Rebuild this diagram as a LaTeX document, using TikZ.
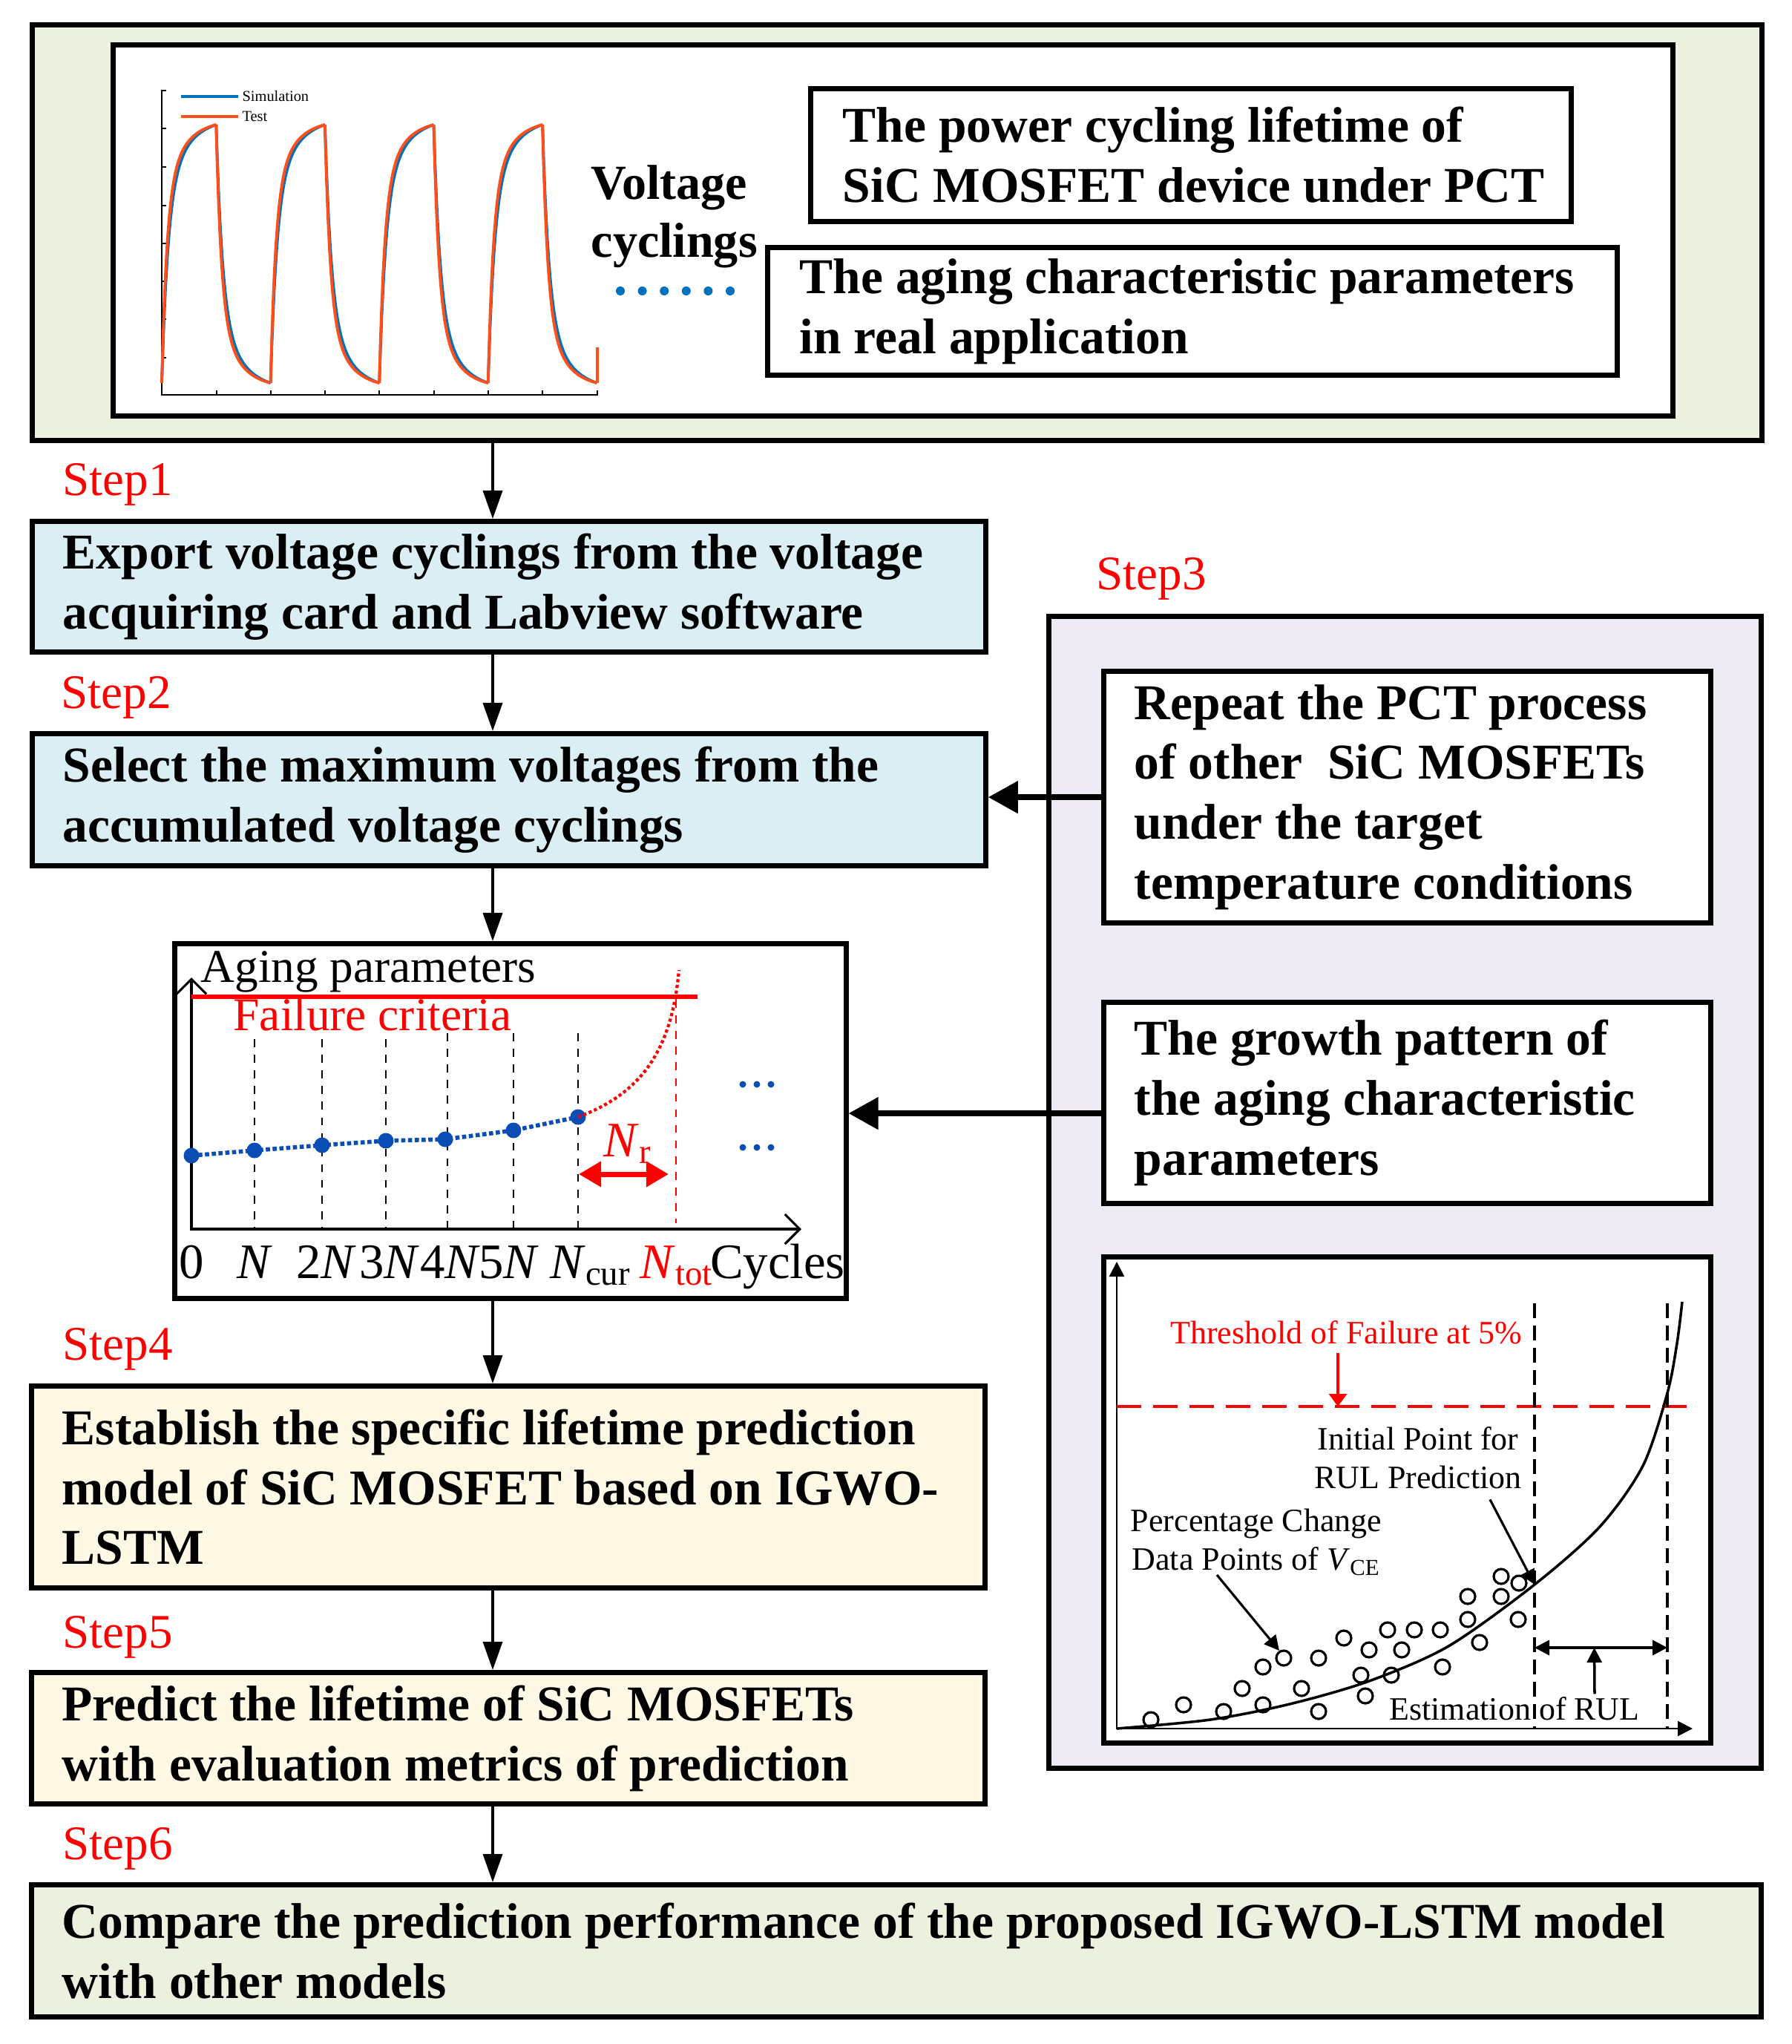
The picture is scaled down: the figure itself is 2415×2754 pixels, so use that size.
\documentclass[tikz,border=0pt]{standalone}
\usepackage{fontspec}
\setmainfont{Liberation Serif}
\usepackage{tikz}
\usetikzlibrary{positioning,arrows.meta,calc}
\definecolor{topgreen}{HTML}{EBF1DE}
\definecolor{boxblue}{HTML}{DAEEF3}
\definecolor{boxcream}{HTML}{FEF8E4}
\definecolor{boxlav}{HTML}{EEEAF3}
\definecolor{wblue}{HTML}{0072BD}
\definecolor{worange}{HTML}{FF4F1A}
\definecolor{dotblue}{HTML}{0A4DB4}

\begin{document}
\begin{tikzpicture}[x=0.01cm,y=-0.01cm,
  frame/.style={draw,line width=2pt,anchor=north west,inner sep=0pt},
  boxtxt/.style={anchor=west,align=left,inner sep=0pt,font=\fontsize{19.2}{23}\selectfont\bfseries},
  steplbl/.style={anchor=west,inner sep=0pt,red,font=\fontsize{18.5}{22}\selectfont},
  flowarr/.style={line width=1pt,-{Triangle[length=0.38cm,width=0.26cm]}},
  sidearr/.style={line width=2.2pt,-{Triangle[length=0.4cm,width=0.42cm]}},
  axlbl/.style={anchor=base,inner sep=0pt,font=\fontsize{19}{22}\selectfont},
  rullbl/.style={inner sep=0pt,align=center,font=\fontsize{12.5}{14.8}\selectfont},
  declare function={g(\rt,\ra,\rb)=0.7*(1-exp(-\rt/\ra))+0.3*(1-exp(-\rt/\rb));
    rise(\rt,\ra,\rb)=g(\rt,\ra,\rb)/g(73.3,\ra,\rb);}]
\useasboundingbox (0,0) rectangle (2415,2754);

\node[frame,fill=topgreen,minimum width=23.3cm,minimum height=5.6cm] (top) at (40,30) {};
\node[frame,fill=white,minimum width=21.01cm,minimum height=5cm] (inner) at (149,57) {};
\draw[line width=0.6pt] (224,122) -- (218,122) -- (218,532) -- (806,532);
\foreach \y in {173,225,277,328,379,430,482} \draw[line width=0.6pt] (218,\y) -- (224,\y);
\foreach \x in {292,365,438,511,585,658,731,805} \draw[line width=0.6pt] (\x,532) -- (\x,526);
\foreach \k in {0,...,3}{
  \pgfmathsetmacro\xa{218+146.6*\k}
  \draw[wblue,line width=1.1pt] plot[domain=0:73.3,samples=45] ({\xa+\x},{516-348*rise(\x,8.5,32)}) -- plot[domain=0:73.3,samples=45] ({\xa+73.3+\x},{168+348*rise(\x,8.5,32)});
  \draw[worange,line width=1.1pt] plot[domain=0:73.3,samples=45] ({\xa+\x},{516-348*rise(\x,7,27)}) -- plot[domain=0:73.3,samples=45] ({\xa+73.3+\x},{168+348*rise(\x,7,27)});
}
\draw[worange,line width=1.1pt] (805,516) -- (805,468);
\draw[wblue,line width=1.2pt] (244,130) -- (321,130) node[right,inner sep=1pt,text=black,font=\fontsize{5.8}{7}\selectfont] (lgsim) {Simulation};
\draw[worange,line width=1.2pt] (244,157) -- (321,157) node[right,inner sep=1pt,text=black,font=\fontsize{5.8}{7}\selectfont] (lgtest) {Test};
\node[anchor=west,align=left,inner sep=0pt,font=\fontsize{18.8}{22}\selectfont\bfseries] (vc) at (796,292) {Voltage\\cyclings};
\foreach \i in {0,...,5} \fill[wblue] ({836+29.6*\i},392) circle (0.06cm);
\node[frame,minimum width=10.24cm,minimum height=1.79cm] (life) at (1089,116) {};
\node[boxtxt] (lifet) at ([xshift=0.46cm]life.west) {The power cycling lifetime of\\SiC MOSFET device under PCT};
\node[frame,minimum width=11.44cm,minimum height=1.72cm] (real) at (1031,330) {};
\node[boxtxt] (realt) at ([xshift=0.46cm]real.west) {The aging characteristic parameters\\in real application};

\node[steplbl] (st1) at (84,653) {Step1};
\node[steplbl] (st2) at (82,940) {Step2};
\node[steplbl] (st3) at (1477,780) {Step3};
\node[steplbl] (st4) at (84,1818) {Step4};
\node[steplbl] (st5) at (84,2206) {Step5};
\node[steplbl] (st6) at (84,2491) {Step6};

\node[frame,fill=boxblue,minimum width=12.84cm,minimum height=1.76cm] (s1) at (40,699) {};
\node[boxtxt] (s1t) at ([xshift=0.44cm]s1.west) {Export voltage cyclings from the voltage\\acquiring card and Labview software};
\node[frame,fill=boxblue,minimum width=12.84cm,minimum height=1.78cm] (s2) at (40,985) {};
\node[boxtxt] (s2t) at ([xshift=0.44cm]s2.west) {Select the maximum voltages from the\\accumulated voltage cyclings};
\node[frame,fill=white,minimum width=9.04cm,minimum height=4.78cm] (agebox) at (232,1268) {};
\node[frame,fill=boxcream,minimum width=12.84cm,minimum height=2.72cm] (s4) at (39,1864) {};
\node[boxtxt] (s4t) at ([xshift=0.44cm]s4.west) {Establish the specific lifetime prediction\\model of SiC MOSFET based on IGWO-\\LSTM};
\node[frame,fill=boxcream,minimum width=12.84cm,minimum height=1.77cm] (s5) at (39,2250) {};
\node[boxtxt] (s5t) at ([xshift=0.44cm]s5.west) {Predict the lifetime of SiC MOSFETs\\with evaluation metrics of prediction};
\node[frame,fill=topgreen,minimum width=23.3cm,minimum height=1.78cm] (s6) at (39,2536) {};
\node[boxtxt] (s6t) at ([xshift=0.44cm]s6.west) {Compare the prediction performance of the proposed IGWO-LSTM model\\with other models};

\node[frame,fill=boxlav,minimum width=9.59cm,minimum height=15.51cm] (s3) at (1410,827) {};
\node[frame,fill=white,minimum width=8.17cm,minimum height=3.39cm] (rep) at (1484,901) {};
\node[boxtxt] (rept) at ([xshift=0.44cm]rep.west) {Repeat the PCT process\\of other~ SiC MOSFETs\\under the target\\temperature conditions};
\node[frame,fill=white,minimum width=8.17cm,minimum height=2.71cm] (grow) at (1484,1347) {};
\node[boxtxt] (growt) at ([xshift=0.44cm]grow.west) {The growth pattern of\\the aging characteristic\\parameters};
\node[frame,fill=white,minimum width=8.17cm,minimum height=6.55cm] (rulbox) at (1484,1690) {};

\coordinate (spine) at (664,0);
\foreach \a/\b in {top/s1,s1/s2,s2/agebox,agebox/s4,s4/s5,s5/s6}
  \draw[flowarr] (\a.south -| spine) -- (\b.north -| spine);
\draw[sidearr] (rep.west) -- (rep.west -| s2.east);
\draw[sidearr] ($(grow.west)+(0,14)$) -- ($(grow.west -| agebox.east)+(0,14)$);

\draw[line width=0.9pt,{Straight Barb[length=0.2cm,width=0.4cm]}-{Straight Barb[length=0.2cm,width=0.4cm]}] (258,1317) -- (258,1656) -- (1080,1656);
\node[anchor=base west,inner sep=0pt,font=\fontsize{18}{21}\selectfont] (agp) at (270,1323) {Aging parameters};
\draw[red,line width=1.5pt] (258,1343) -- (940,1343);
\node[anchor=base west,inner sep=0pt,red,font=\fontsize{18}{21}\selectfont] (fcr) at (314,1388) {Failure criteria};
\foreach \x/\y in {343/1400,434/1400,520/1400,603/1392,692/1392,779/1392} \draw[dashed,line width=0.8pt] (\x,\y) -- (\x,1656);
\draw[red,dashed,line width=0.8pt] (911,1347) -- (911,1648);
\draw[dotblue,densely dotted,line width=1.6pt] (258,1557) -- (343,1550) -- (434,1543) -- (520,1537) -- (600,1535) -- (692,1523) -- (779,1505);
\foreach \x/\y in {258/1557,343/1550,434/1543,520/1537,600/1535,692/1523,779/1505} \fill[dotblue] (\x,\y) circle (0.105cm);
\draw[red,densely dotted,line width=1.2pt] (779,1505) .. controls (860,1475) and (905,1420) .. (915,1307);
\node[anchor=base west,inner sep=0pt,red,font=\fontsize{19}{22}\selectfont] (nr) at (813,1558) {\textit{N}\textsubscript{r}};
\draw[red,line width=2pt,{Triangle[length=0.3cm,width=0.33cm]}-{Triangle[length=0.3cm,width=0.33cm]}] (780,1582) -- (901,1582);
\foreach \y in {1461,1546} \foreach \x in {1001,1020,1039} \fill[dotblue] (\x,\y) circle (0.045cm);
\foreach \x/\lb in {258/0,343/\textit{N},440/2\textit{N},525/3\textit{N},607/4\textit{N},686/5\textit{N},796/\textit{N}\textsubscript{cur},1048/Cycles}
  \node[axlbl] at (\x,1722) {\lb};
\node[axlbl,red] (ntot) at (912,1722) {\textit{N}\textsubscript{tot}};

\draw[line width=0.8pt,{Triangle[length=0.2cm,width=0.2cm]}-{Triangle[length=0.2cm,width=0.2cm]}] (1505,1700) -- (1505,2329) -- (2281,2329);
\draw[red,line width=1.3pt,dash pattern=on 0.33cm off 0.16cm] (1505,1895) -- (2279,1895);
\foreach \x in {2068,2247} \draw[line width=1pt,dash pattern=on 0.2cm off 0.1cm] (\x,1756) -- (\x,2329);
\draw[line width=1pt] plot[smooth] coordinates {(1505,2329) (1631,2317) (1738,2296) (1845,2265) (1952,2218) (2068,2135) (2156,2057) (2214,1975) (2247,1877) (2260,1810) (2267,1754)};
\foreach \x/\y in {1551/2317,1595/2297,1649/2306,1674/2275,1702/2246,1702/2297,1730/2234,1754/2275,1777/2234,1777/2306,1811/2207,1834/2257,1840/2285,1845/2223,1870/2196,1875/2257,1889/2223,1906/2196,1941/2196,1944/2246,1978/2151,1978/2182,1994/2213,2023/2124,2023/2151,2047/2133,2046/2182}
  \draw[line width=0.9pt] (\x,\y) circle (0.1cm);
\node[rullbl,red,anchor=base] (thr) at (1814,1810) {Threshold of Failure at 5\%};
\coordinate (thrtip) at (1803,1895);
\draw[red,line width=1pt,-{Triangle[length=0.17cm,width=0.24cm]}] ($(thr.south -| thrtip)+(0,12)$) -- (thrtip);
\node[rullbl] (ini) at (1911,1964) {Initial Point for\\RUL Prediction};
\coordinate (initip) at (2068,2135);
\draw[line width=0.9pt,-{Triangle[length=0.2cm,width=0.2cm]}] ($(ini.south)+(97,14)$) -- (initip);
\node[rullbl] (pct) at (1693,2078) {Percentage Change\\Data Points of \textit{V}\textsubscript{CE}};
\coordinate (pcttip) at (1724,2224);
\draw[line width=0.9pt,-{Triangle[length=0.2cm,width=0.2cm]}] (1640,2122) -- (pcttip);
\node[rullbl,anchor=base] (est) at (2041,2317) {Estimation of RUL};
\coordinate (rula) at (2068,2220);
\coordinate (rulb) at (2247,2220);
\draw[line width=1pt,{Triangle[length=0.2cm,width=0.2cm]}-{Triangle[length=0.2cm,width=0.2cm]}] (rula) -- (rulb);
\draw[line width=1pt,-{Triangle[length=0.2cm,width=0.2cm]}] ($(est.north)+(108,-3)$) -- ($(rula)!0.45!(rulb)$);
\end{tikzpicture}
\end{document}
